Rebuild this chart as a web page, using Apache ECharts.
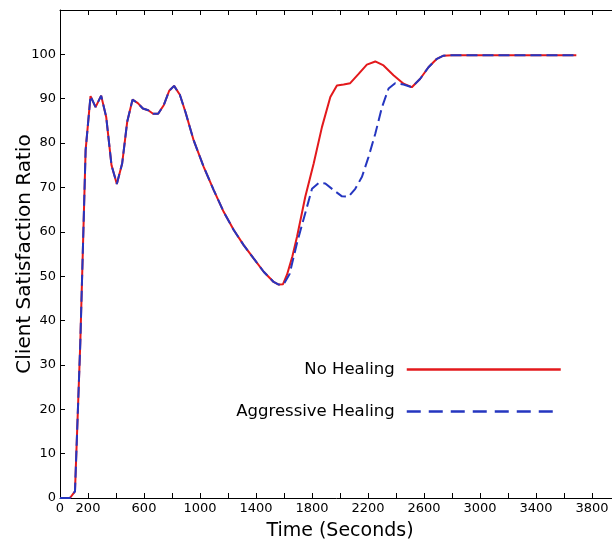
<!DOCTYPE html>
<html>
<head>
<meta charset="utf-8">
<script src="https://cdn.jsdelivr.net/npm/echarts@6/dist/echarts.min.js"></script>
<style>
html, body { margin: 0; padding: 0; background: #fff; }
#chart { width: 612px; height: 540px; }
</style>
</head>
<body>
<div id="chart"></div>
<script>
// values: [time in seconds, satisfaction ratio]
const sharedStart = [
  [0, 0], [37, 0], [71, 0], [107, 1.5], [145, 35], [183, 78.4], [218, 90.6],
  [254, 88.1], [294, 90.7], [330, 85.9], [368, 75.0], [406, 70.8], [444, 75.4],
  [480, 84.8], [518, 89.8], [556, 89.0], [592, 87.8], [630, 87.4], [665, 86.6],
  [701, 86.6], [742, 88.6], [780, 91.8], [815, 92.9], [856, 90.9], [896, 87.0],
  [955, 80.6], [1027, 74.6], [1098, 69.4], [1169, 64.5], [1241, 60.4],
  [1312, 57.0], [1383, 54.0], [1455, 51.0], [1526, 48.7], [1562, 48.1]
];
const noHealingMid = [
  [1593, 48.2], [1622, 50.4], [1660, 54.5], [1693, 58.9], [1752, 67.9],
  [1812, 75.4], [1871, 83.6], [1931, 90.4], [1978, 93.0], [2026, 93.2],
  [2073, 93.5], [2133, 95.6], [2192, 97.7], [2252, 98.4], [2311, 97.5],
  [2382, 95.3], [2454, 93.4]
];
const aggressiveMid = [
  [1600, 48.3], [1640, 50.5], [1693, 57.5], [1764, 65.6], [1800, 69.7],
  [1847, 71.0], [1895, 70.9], [1954, 69.4], [2014, 68.0], [2061, 67.9],
  [2109, 69.7], [2157, 72.4], [2204, 76.9], [2252, 82.1], [2300, 88.1],
  [2347, 92.3], [2394, 93.5], [2454, 93.2]
];
const sharedEnd = [
  [2513, 92.6], [2573, 94.5], [2632, 97.1], [2692, 99.0], [2739, 99.7],
  [2800, 99.8], [3688, 99.8]
];
const xLabels = [0, 200, 600, 1000, 1400, 1800, 2200, 2600, 3000, 3400, 3800];

const noHealing = sharedStart.concat(noHealingMid, sharedEnd);
const aggressive = sharedStart.concat(aggressiveMid, sharedEnd);

const font = 'DejaVu Sans';
const red = '#e3191c';
const blue = '#2536c0';

let chart = echarts.init(document.getElementById('chart'), null, { renderer: 'canvas' });
let option = {
  animation: false,
  backgroundColor: '#fff',
  grid: { left: 60, right: -8, top: 10, bottom: 42, outerBoundsMode: 'none', containLabel: false },
  legend: [
    {
      data: [{ name: 'No Healing', itemStyle: { opacity: 0 }, lineStyle: { color: red, width: 2.5, type: 'solid' } }],
      right: 50, top: 361, align: 'right', orient: 'vertical', padding: 0,
      itemWidth: 154, itemHeight: 14,
      textStyle: { fontFamily: font, fontSize: 16.5, color: '#000', padding: [0, 7, 0, 0] }
    },
    {
      data: [{ name: 'Aggressive Healing', itemStyle: { opacity: 0 }, lineStyle: { color: blue, width: 2.5, type: [14, 8] } }],
      right: 52, top: 403, align: 'right', orient: 'vertical', padding: 0,
      itemWidth: 152, itemHeight: 14,
      textStyle: { fontFamily: font, fontSize: 16.5, color: '#000', padding: [0, 7, 0, 0] }
    }
  ],
  xAxis: [
    {
      type: 'value', min: 0, max: 4000, interval: 200,
      name: 'Time (Seconds)', nameLocation: 'middle', nameGap: 24, nameMoveOverlap: false,
      nameTextStyle: { fontFamily: font, fontSize: 19, color: '#000' },
      axisLine: { lineStyle: { color: '#000', width: 1 } },
      axisTick: { inside: true, length: 5, lineStyle: { color: '#000' } },
      axisLabel: {
        fontFamily: font, fontSize: 13, color: '#000', margin: 4,
        formatter: function (v) { return xLabels.indexOf(v) >= 0 ? String(v) : ''; }
      },
      splitLine: { show: false }
    },
    {
      type: 'value', position: 'top', min: 0, max: 4000, interval: 200,
      axisLine: { lineStyle: { color: '#000', width: 1 } },
      axisTick: { inside: true, length: 5, lineStyle: { color: '#000' } },
      axisLabel: { show: false },
      splitLine: { show: false }
    }
  ],
  yAxis: {
    type: 'value', min: 0, max: 110, interval: 10,
    name: 'Client Satisfaction Ratio', nameLocation: 'middle', nameGap: 25, nameMoveOverlap: false,
    nameTextStyle: { fontFamily: font, fontSize: 20, color: '#000' },
    axisLine: { lineStyle: { color: '#000', width: 1 } },
    axisTick: { inside: true, length: 5, lineStyle: { color: '#000' } },
    axisLabel: {
      fontFamily: font, fontSize: 13, color: '#000', margin: 4,
      formatter: function (v) { return v <= 100 ? String(v) : ''; }
    },
    splitLine: { show: false }
  },
  series: [
    {
      name: 'No Healing', type: 'line', data: noHealing,
      symbol: 'none', lineStyle: { color: red, width: 2 }, itemStyle: { color: red },
      z: 2
    },
    {
      name: 'Aggressive Healing', type: 'line', data: aggressive,
      symbol: 'none', lineStyle: { color: blue, width: 2, type: [11, 5] }, itemStyle: { color: blue },
      z: 3
    }
  ]
};
chart.setOption(option);
</script>
</body>
</html>
